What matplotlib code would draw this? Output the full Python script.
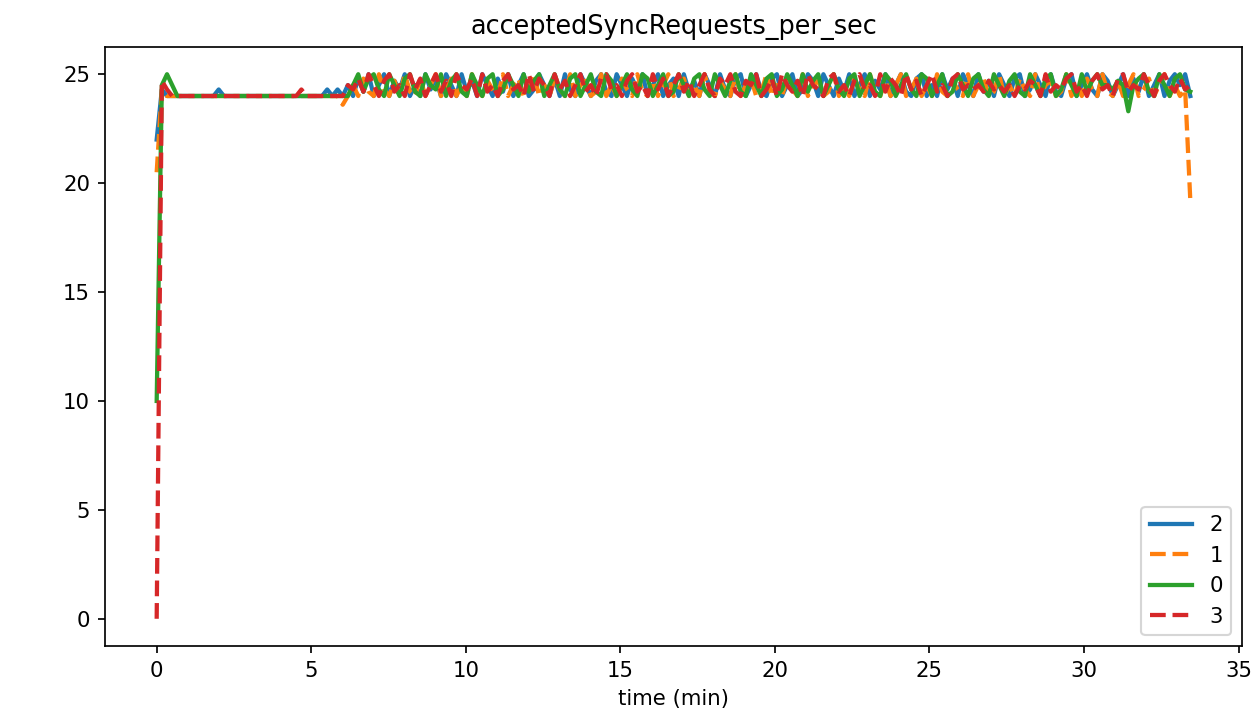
import numpy as np
import matplotlib
matplotlib.use("Agg")
import matplotlib.pyplot as plt

STEP_MIN = 33.44 / 200.0  # ~10-second sampling

series_labels = ["2", "1", "0", "3"]

s2_start = [22.0, 24.3, 24.0, 24.0, 24.0, 24.0, 24.0, 24.0, 24.0, 24.0, 24.0, 24.0,
            24.3, 24.0, 24.0, 24.0, 24.0, 24.0, 24.0, 24.0, 24.0, 24.0, 24.0, 24.0,
            24.0, 24.0, 24.0, 24.0, 24.0, 24.0, 24.0, 24.0, 24.0, 24.3, 24.0, 24.3, 24.0]
s2_rest = [24.5, 24.0, 24.8, 24.2, 25.0, 24.0, 24.5, 25.0, 24.0, 24.7, 24.3, 25.0, 24.0, 24.5, 24.0, 25.0, 24.3, 24.8, 24.0, 25.0,
           24.5, 24.0, 25.0, 24.2, 24.7, 24.0, 25.0, 24.5, 24.0, 24.8, 24.2, 25.0, 24.0, 24.5, 25.0, 24.0, 24.3, 25.0, 24.5, 24.0,
           24.8, 24.0, 25.0, 24.3, 24.0, 25.0, 24.5, 24.0, 24.7, 25.0, 24.2, 24.0, 25.0, 24.5, 24.0, 24.8, 24.3, 25.0, 24.0, 24.5,
           25.0, 24.0, 24.5, 24.8, 24.0, 25.0, 24.2, 24.7, 24.0, 25.0, 24.5, 24.0, 25.0, 24.3, 24.0, 24.8, 25.0, 24.0, 24.5, 25.0,
           24.2, 24.0, 24.8, 25.0, 24.0, 24.5, 25.0, 24.0, 24.3, 25.0, 24.7, 24.0, 25.0, 24.5, 24.0, 24.8, 24.2, 25.0, 24.0, 24.5,
           25.0, 24.0, 24.7, 24.3, 25.0, 24.0, 24.5, 25.0, 24.2, 24.0, 24.8, 25.0, 24.0, 24.5, 24.0, 25.0, 24.3, 24.8, 24.0, 25.0,
           24.5, 24.0, 25.0, 24.2, 24.7, 24.0, 25.0, 24.5, 24.0, 24.8, 25.0, 24.0, 24.3, 25.0, 24.5, 24.0, 25.0, 24.2, 24.0, 24.8,
           25.0, 24.0, 24.5, 25.0, 24.3, 24.0, 25.0, 24.7, 24.0, 24.5, 25.0, 24.0, 24.8, 24.2, 25.0, 24.0, 24.5, 25.0, 24.0, 24.7,
           25.0, 24.5, 25.0, 24.0]

s1_start = [20.5, 24.3, 24.0, 24.0, 24.0, 24.0, 24.0, 24.0, 24.0, 24.0, 24.0, 24.0,
            24.0, 24.0, 24.0, 24.0, 24.0, 24.0, 24.0, 24.0, 24.0, 24.0, 24.0, 24.0,
            24.0, 24.0, 24.0, 24.0, 24.0, 24.0, 24.0, 24.0, 24.0, 24.0, 24.0, 24.0, 23.6]
s1_rest = [24.0, 24.5, 24.0, 24.8, 24.2, 24.0, 25.0, 24.3, 24.0, 24.7, 24.0, 25.0, 24.2, 24.0, 24.8, 24.0, 24.5, 25.0, 24.0, 24.3,
           24.8, 24.0, 24.5, 24.0, 25.0, 24.2, 24.0, 24.7, 24.3, 24.0, 25.0, 24.0, 24.5, 24.8, 24.0, 24.2, 25.0, 24.0, 24.5, 24.0,
           24.8, 24.3, 24.0, 25.0, 24.0, 24.5, 24.7, 24.0, 24.2, 25.0, 24.0, 24.5, 24.0, 24.8, 24.3, 24.0, 25.0, 24.2, 24.0, 24.7,
           24.0, 24.5, 25.0, 24.0, 24.3, 24.8, 24.0, 24.5, 24.0, 25.0, 24.2, 24.0, 24.7, 24.3, 24.0, 25.0, 24.0, 24.5, 24.8, 24.0,
           24.2, 25.0, 24.0, 24.5, 24.0, 24.8, 24.3, 24.0, 25.0, 24.0, 24.5, 24.7, 24.0, 24.2, 25.0, 24.0, 24.5, 24.0, 24.8, 24.3,
           24.0, 25.0, 24.2, 24.0, 24.7, 24.0, 24.5, 25.0, 24.0, 24.3, 24.8, 24.0, 24.5, 24.0, 25.0, 24.2, 24.0, 24.7, 24.3, 24.0,
           25.0, 24.0, 24.5, 24.8, 24.0, 24.2, 25.0, 24.0, 24.5, 24.0, 24.8, 24.3, 24.0, 25.0, 24.0, 24.5, 24.7, 24.0, 24.2, 25.0,
           24.0, 24.5, 24.0, 24.8, 24.3, 24.0, 25.0, 24.2, 24.0, 24.7, 24.0, 24.5, 25.0, 24.0, 24.3, 24.8, 24.0, 24.5, 25.0, 24.0,
           24.5, 24.0, 24.3, 19.2]

s0_start = [10.0, 24.5, 25.0, 24.5, 24.0, 24.0, 24.0, 24.0, 24.0, 24.0, 24.0, 24.0,
            24.0, 24.0, 24.0, 24.0, 24.0, 24.0, 24.0, 24.0, 24.0, 24.0, 24.0, 24.0,
            24.0, 24.0, 24.0, 24.0, 24.0, 24.0, 24.0, 24.0, 24.0, 24.0, 24.0, 24.0, 24.0]
s0_rest = [24.0, 24.5, 25.0, 24.2, 24.8, 25.0, 24.3, 24.0, 25.0, 24.5, 24.0, 24.8, 25.0, 24.2, 24.0, 25.0, 24.5, 24.3, 25.0, 24.0,
           24.7, 25.0, 24.2, 24.0, 25.0, 24.5, 24.0, 24.8, 25.0, 24.0, 24.3, 25.0, 24.5, 24.0, 25.0, 24.2, 24.7, 25.0, 24.0, 24.5,
           25.0, 24.3, 24.0, 24.8, 25.0, 24.0, 24.5, 25.0, 24.2, 24.0, 25.0, 24.7, 24.0, 24.5, 25.0, 24.3, 24.0, 25.0, 24.8, 24.0,
           24.5, 25.0, 24.0, 24.2, 25.0, 24.5, 24.0, 24.8, 25.0, 24.3, 24.0, 25.0, 24.5, 24.0, 24.7, 25.0, 24.2, 24.0, 25.0, 24.5,
           24.0, 24.8, 25.0, 24.0, 24.3, 25.0, 24.5, 24.0, 25.0, 24.2, 24.7, 25.0, 24.0, 24.5, 25.0, 24.3, 24.0, 24.8, 25.0, 24.0,
           24.5, 25.0, 24.2, 24.0, 25.0, 24.7, 24.0, 24.5, 25.0, 24.3, 24.0, 25.0, 24.8, 24.0, 24.5, 25.0, 24.0, 24.2, 25.0, 24.5,
           24.0, 24.8, 25.0, 24.3, 24.0, 25.0, 24.5, 24.0, 24.7, 25.0, 24.2, 24.0, 25.0, 24.5, 24.0, 24.8, 25.0, 24.0, 24.3, 25.0,
           24.5, 24.0, 25.0, 24.2, 24.7, 25.0, 24.5, 24.5, 24.3, 24.7, 24.5, 23.3, 24.5, 24.8, 25.0, 24.2, 24.0, 25.0, 24.5, 24.0,
           24.8, 25.0, 24.3, 24.2]

s3_start = [0.0, 24.7, 24.3, 24.0, 24.0, 24.0, 24.0, 24.0, 24.0, 24.0, 24.0, 24.0,
            24.0, 24.0, 24.0, 24.0, 24.0, 24.0, 24.0, 24.0, 24.0, 24.0, 24.0, 24.0,
            24.0, 24.0, 24.0, 24.0, 24.3, 24.0, 24.0, 24.0, 24.0, 24.0, 24.0, 24.0, 24.0]
s3_rest = [24.5, 24.3, 24.8, 24.2, 25.0, 24.5, 24.0, 24.7, 25.0, 24.2, 24.5, 24.0, 25.0, 24.3, 24.8, 24.0, 24.5, 25.0, 24.2, 24.7,
           24.0, 25.0, 24.5, 24.3, 24.8, 24.0, 25.0, 24.2, 24.5, 24.0, 24.7, 25.0, 24.3, 24.5, 24.0, 25.0, 24.2, 24.8, 24.5, 24.0,
           25.0, 24.3, 24.7, 24.0, 24.5, 25.0, 24.2, 24.5, 24.0, 24.8, 25.0, 24.3, 24.5, 24.0, 24.7, 25.0, 24.2, 24.5, 24.0, 25.0,
           24.3, 24.8, 24.0, 24.5, 25.0, 24.2, 24.7, 24.0, 24.5, 25.0, 24.3, 24.0, 24.8, 24.5, 25.0, 24.2, 24.0, 24.7, 24.5, 25.0,
           24.0, 24.3, 24.8, 24.0, 25.0, 24.5, 24.2, 24.7, 24.0, 25.0, 24.5, 24.3, 24.0, 24.8, 25.0, 24.2, 24.5, 24.0, 24.7, 25.0,
           24.3, 24.5, 24.0, 25.0, 24.2, 24.8, 24.5, 24.0, 25.0, 24.3, 24.7, 24.0, 24.5, 25.0, 24.2, 24.5, 24.0, 24.8, 25.0, 24.3,
           24.5, 24.3, 24.5, 24.2, 24.7, 24.3, 24.5, 24.2, 24.5, 24.0, 24.5, 24.3, 24.7, 24.5, 24.0, 25.0, 24.2, 24.5, 24.3, 24.8,
           25.0, 24.2, 24.5, 24.0, 24.7, 25.0, 24.3, 24.5, 24.0, 24.8, 25.0, 24.2, 24.5, 24.3, 25.0, 24.5, 24.0, 24.7, 25.0, 24.5,
           24.2, 24.8, 24.3, 24.5]

series_values = [s2_start + s2_rest, s1_start + s1_rest, s0_start + s0_rest, s3_start + s3_rest]
colors = ["#1f77b4", "#ff7f0e", "#2ca02c", "#d62728"]
styles = ["-", "--", "-", "--"]

DPI = 153
fig = plt.figure(figsize=(1252 / DPI, 719 / DPI), dpi=DPI)
ax = fig.add_axes([105 / 1252, 73 / 719, 1137 / 1252, 599 / 719])

for lab, vals, c, ls in zip(series_labels, series_values, colors, styles):
    t = np.arange(len(vals)) * STEP_MIN
    ax.plot(t, vals, color=c, linestyle=ls, linewidth=2.0, label=lab)

ax.set_title("acceptedSyncRequests_per_sec")
ax.set_xlabel("time (min)")
ax.legend(loc="lower right")

fig.savefig("out.png", dpi=DPI)
